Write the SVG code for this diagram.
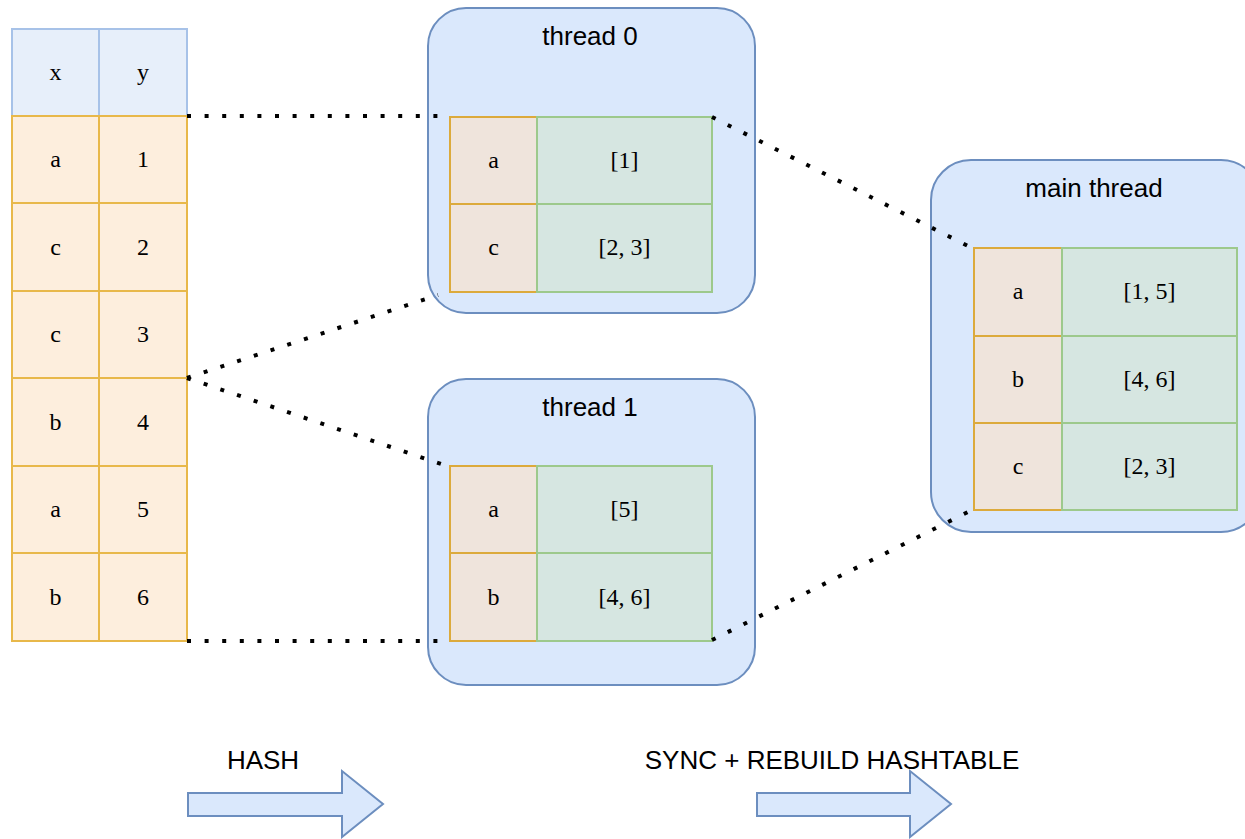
<svg xmlns="http://www.w3.org/2000/svg" width="1245" height="839" viewBox="0 0 1245 839">
<style>
.hdr{fill:#e7effa;stroke:#a7c2e8;stroke-width:2}
.src{fill:#fdeedd;stroke:#e8b84a;stroke-width:2}
.box{fill:#dae8fc;stroke:#6c8ebf;stroke-width:2}
.key{fill:#efe4dc;stroke:#dcaa3c;stroke-width:2}
.val{fill:#d6e6e1;stroke:#9dc98c;stroke-width:2}
.cell{font-family:"Liberation Serif","Times New Roman",serif;font-size:24px;fill:#000;text-anchor:middle}
.lbl{font-family:"Liberation Sans",Arial,Helvetica,sans-serif;font-size:26px;fill:#000;text-anchor:middle}
.dot{fill:none;stroke:#000;stroke-width:4;stroke-dasharray:4 13.6}
.arr{fill:#dae8fc;stroke:#6c8ebf;stroke-width:2}
</style>
<g id="source-table">
<rect class="hdr" x="12" y="29" width="87" height="87"/>
<rect class="hdr" x="99" y="29" width="88" height="87"/>
<text class="cell" x="55.5" y="80">x</text>
<text class="cell" x="143" y="80">y</text>
<rect class="src" x="12" y="116" width="87" height="87"/><rect class="src" x="99" y="116" width="88" height="87"/>
<rect class="src" x="12" y="203" width="87" height="88"/><rect class="src" x="99" y="203" width="88" height="88"/>
<rect class="src" x="12" y="291" width="87" height="87"/><rect class="src" x="99" y="291" width="88" height="87"/>
<rect class="src" x="12" y="378" width="87" height="88"/><rect class="src" x="99" y="378" width="88" height="88"/>
<rect class="src" x="12" y="466" width="87" height="87"/><rect class="src" x="99" y="466" width="88" height="87"/>
<rect class="src" x="12" y="553" width="87" height="88"/><rect class="src" x="99" y="553" width="88" height="88"/>
<text class="cell" x="55.5" y="167">a</text><text class="cell" x="143" y="167">1</text>
<text class="cell" x="55.5" y="255">c</text><text class="cell" x="143" y="255">2</text>
<text class="cell" x="55.5" y="342">c</text><text class="cell" x="143" y="342">3</text>
<text class="cell" x="55.5" y="430">b</text><text class="cell" x="143" y="430">4</text>
<text class="cell" x="55.5" y="517">a</text><text class="cell" x="143" y="517">5</text>
<text class="cell" x="55.5" y="605">b</text><text class="cell" x="143" y="605">6</text>
</g>
<g id="thread0">
<rect class="box" x="428" y="8" width="327" height="305" rx="38" ry="38"/>
<text class="lbl" x="590" y="45">thread 0</text>
<rect class="key" x="450" y="117" width="87" height="87"/><rect class="val" x="537" y="117" width="175" height="87"/>
<rect class="key" x="450" y="204" width="87" height="88"/><rect class="val" x="537" y="204" width="175" height="88"/>
<text class="cell" x="493.5" y="168">a</text><text class="cell" x="624.5" y="168">[1]</text>
<text class="cell" x="493.5" y="255">c</text><text class="cell" x="624.5" y="255">[2, 3]</text>
</g>
<g id="thread1">
<rect class="box" x="428" y="379" width="327" height="306" rx="38" ry="38"/>
<text class="lbl" x="590" y="416">thread 1</text>
<rect class="key" x="450" y="466" width="87" height="87"/><rect class="val" x="537" y="466" width="175" height="87"/>
<rect class="key" x="450" y="553" width="87" height="88"/><rect class="val" x="537" y="553" width="175" height="88"/>
<text class="cell" x="493.5" y="517">a</text><text class="cell" x="624.5" y="517">[5]</text>
<text class="cell" x="493.5" y="605">b</text><text class="cell" x="624.5" y="605">[4, 6]</text>
</g>
<g id="main-thread">
<rect class="box" x="931" y="160" width="330" height="372" rx="40" ry="40"/>
<text class="lbl" x="1094" y="197">main thread</text>
<rect class="key" x="974" y="248" width="88" height="88"/><rect class="val" x="1062" y="248" width="175" height="88"/>
<rect class="key" x="974" y="336" width="88" height="87"/><rect class="val" x="1062" y="336" width="175" height="87"/>
<rect class="key" x="974" y="423" width="88" height="87"/><rect class="val" x="1062" y="423" width="175" height="87"/>
<text class="cell" x="1018" y="299">a</text><text class="cell" x="1149.5" y="299">[1, 5]</text>
<text class="cell" x="1018" y="387">b</text><text class="cell" x="1149.5" y="387">[4, 6]</text>
<text class="cell" x="1018" y="474">c</text><text class="cell" x="1149.5" y="474">[2, 3]</text>
</g>
<g id="connectors">
<line class="dot" x1="187" y1="116" x2="438" y2="116"/>
<line class="dot" x1="187" y1="641" x2="438" y2="641"/>
<line class="dot" x1="187" y1="378" x2="438" y2="295"/>
<line class="dot" x1="187" y1="378" x2="441" y2="464"/>
<line class="dot" x1="712" y1="117" x2="968" y2="246"/>
<line class="dot" x1="712" y1="640" x2="968" y2="512"/>
</g>
<g id="hash-step">
<text class="lbl" x="263" y="769">HASH</text>
<path class="arr" d="M188 793 H342 V771 L383 804 L342 837 V816 H188 Z"/>
</g>
<g id="sync-step">
<path class="arr" d="M757 793 H910 V771 L951 804 L910 837 V816 H757 Z"/>
<text class="lbl" x="832" y="769">SYNC + REBUILD HASHTABLE</text>
</g>
</svg>
